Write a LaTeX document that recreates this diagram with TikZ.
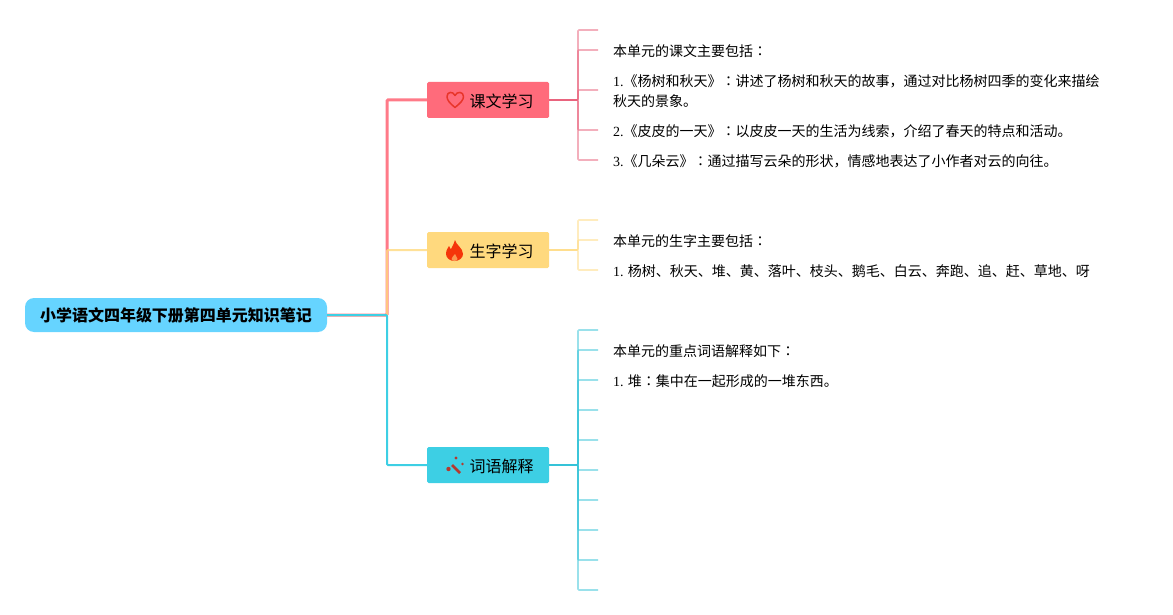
\documentclass[tikz,border=0pt]{standalone}
\usepackage{fontspec}
\setmainfont{Noto Sans CJK SC}
\newfontfamily\numfont{Liberation Serif}
\newfontfamily\colonfont{Noto Sans CJK JP}
\newcommand{\cn}{{\colonfont ：}}
\newcommand{\num}[1]{{\numfont #1}}
\definecolor{rootblue}{HTML}{66D4FF}
\definecolor{lessonred}{HTML}{FF6B7B}
\definecolor{lessonarm}{HTML}{E8607A}
\definecolor{wordyellow}{HTML}{FFD97E}
\definecolor{termteal}{HTML}{3DCFE4}
\definecolor{termarm}{HTML}{35C3D8}
\definecolor{heartred}{HTML}{E8352A}
\definecolor{flamered}{HTML}{F5350A}
\definecolor{wandred}{HTML}{B5392F}

\begin{document}
\begin{tikzpicture}[x=1pt, y=-1pt,
    rootbox/.style={fill=rootblue, rounded corners=9pt, minimum width=302pt, minimum height=34pt, inner sep=0pt, font=\fontsize{16}{16}\selectfont\bfseries},
    topicbox/.style={rounded corners=1.5pt, minimum width=122pt, minimum height=36pt, inner sep=0pt},
    topicname/.style={anchor=west, inner sep=0pt, font=\fontsize{16}{16}\selectfont},
    leaftext/.style={anchor=west, inner sep=0pt, align=left, font=\fontsize{14}{20}\selectfont},
    mainline/.style={line width=#1, rounded corners=1pt},
    armline/.style={line width=1.6pt, opacity=.5, rounded corners=1pt}]

    \useasboundingbox (0,0) rectangle (1173,615);

    % centre and topics
    \node[rootbox] (root) at (176,315) {小学语文四年级下册第四单元知识笔记};
    \node[topicbox, fill=lessonred] (lesson) at (488,100) {};
    \node[topicbox, fill=wordyellow] (word) at (488,250) {};
    \node[topicbox, fill=termteal] (term) at (488,465) {};

    \node[topicname] (lessonname) at (469.5,101) {课文学习};
    \node[topicname] (wordname) at (469.5,251) {生字学习};
    \node[topicname] (termname) at (469.5,466) {词语解释};

    % trunk lines
    \coordinate (bend) at (387,315);
    \draw[mainline=3pt, draw=lessonred!90!white] (root.east) -- (bend) |- (lesson.west);
    \draw[mainline=2pt, draw=wordyellow, opacity=.8] (root.east) -- (bend) |- (word.west);
    \draw[mainline=2pt, draw=termteal] (root.east) -- (bend) |- (term.west);

    % texts
    \node[leaftext] (l1) at (613,51.5) {本单元的课文主要包括\cn};
    \node[leaftext, text width=490pt] (l2) at (613,91.5) {\num{1.}《杨树和秋天》\cn 讲述了杨树和秋天的故事，通过对比杨树四季的变化来描绘\\秋天的景象。};
    \node[leaftext] (l3) at (613,131.5) {\num{2.}《皮皮的一天》\cn 以皮皮一天的生活为线索，介绍了春天的特点和活动。};
    \node[leaftext] (l4) at (613,161.5) {\num{3.}《几朵云》\cn 通过描写云朵的形状，情感地表达了小作者对云的向往。};
    \node[leaftext] (w1) at (613,241.5) {本单元的生字主要包括\cn};
    \node[leaftext] (w2) at (613,271.5) {\num{1.} 杨树、秋天、堆、黄、落叶、枝头、鹅毛、白云、奔跑、追、赶、草地、呀};
    \node[leaftext] (t1) at (613,351.5) {本单元的重点词语解释如下\cn};
    \node[leaftext] (t2) at (613,381.5) {\num{1.} 堆\cn 集中在一起形成的一堆东西。};

    % brackets
    \foreach \y in {30,50,90,130,160}
        \draw[armline, draw=lessonarm] (lesson.east) -- (578,100) |- (598,\y);
    \foreach \y in {220,240,270}
        \draw[armline, draw=wordyellow] (word.east) -- (578,250) |- (598,\y);
    \foreach \y in {330,350,380,410,440,470,500,530,560,590}
        \draw[armline, draw=termarm] (term.east) -- (578,465) |- (598,\y);

    % icons
    \draw[line width=1.5pt, draw=heartred, line join=round]
        (455,107.5) .. controls (449.5,103) and (447,100) .. (447,96.5)
        .. controls (447,91.5) and (453,91) .. (455,95.5)
        .. controls (457,91) and (463.5,91.5) .. (463.5,96.5)
        .. controls (463.5,100) and (460.5,103) .. (455,107.5) -- cycle;
    \fill[flamered]
        (455,240) .. controls (456,245) and (463,248) .. (463,254)
        .. controls (463,258) and (459,261) .. (454.5,261)
        .. controls (450,261) and (446,258) .. (446,254)
        .. controls (446,250) and (448,248) .. (449,246)
        .. controls (450,248) and (450.5,249) .. (451,249)
        .. controls (453,246) and (454,243) .. (455,240) -- cycle;
    \fill[wordyellow!60!flamered]
        (455,254) .. controls (455,256) and (457.5,257) .. (457.5,259)
        .. controls (457.5,260) and (456,261) .. (454.5,261)
        .. controls (453,261) and (451.5,260) .. (451.5,259)
        .. controls (451.5,257) and (454,256) .. (455,254) -- cycle;
    \draw[line width=2.5pt, draw=wandred] (452,465) -- (460,473);
    \fill[wandred] (448.5,469) circle (2.2pt) (456,458) circle (1.7pt) (462.5,464) circle (1.3pt);
\end{tikzpicture}
\end{document}
